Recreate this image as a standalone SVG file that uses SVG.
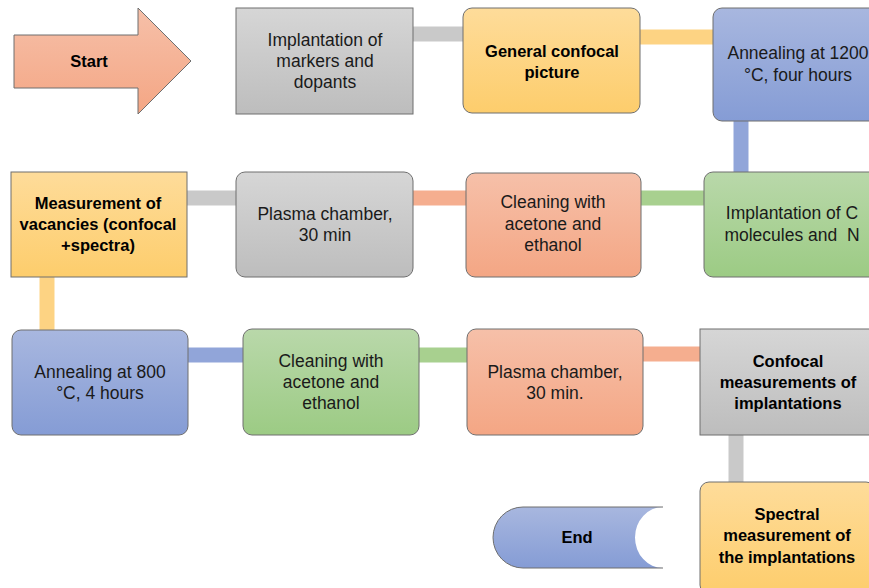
<svg xmlns="http://www.w3.org/2000/svg" width="869" height="588" viewBox="0 0 869 588">
<defs>
<linearGradient id="gGray" x1="0" y1="0" x2="0" y2="1"><stop offset="0" stop-color="#d6d6d6"/><stop offset="1" stop-color="#bdbdbd"/></linearGradient>
<linearGradient id="gYel" x1="0" y1="0" x2="0" y2="1"><stop offset="0" stop-color="#fedc9a"/><stop offset="1" stop-color="#fdcd6c"/></linearGradient>
<linearGradient id="gBlue" x1="0" y1="0" x2="0" y2="1"><stop offset="0" stop-color="#a8b7df"/><stop offset="1" stop-color="#859cd5"/></linearGradient>
<linearGradient id="gGreen" x1="0" y1="0" x2="0" y2="1"><stop offset="0" stop-color="#b9d8aa"/><stop offset="1" stop-color="#9ccb84"/></linearGradient>
<linearGradient id="gSal" x1="0" y1="0" x2="0" y2="1"><stop offset="0" stop-color="#f6c0a9"/><stop offset="1" stop-color="#f4a684"/></linearGradient>
</defs>
<style>
.box{stroke:#6f6f6f;stroke-width:1}
.t{font-family:"Liberation Sans",Arial,sans-serif;font-size:17.5px;fill:#1a1a1a;text-anchor:middle;white-space:pre}
.b{font-weight:bold;font-size:16.5px;fill:#000}
.c{fill:none;stroke-width:15}
</style>
<g id="connectors">
<line class="c" x1="413" y1="34" x2="464" y2="34" stroke="#c9c9c9"/>
<line class="c" x1="640" y1="37" x2="714" y2="37" stroke="#fdd383"/>
<line class="c" x1="741" y1="120" x2="741" y2="173" stroke="#91a5d9"/>
<line class="c" x1="641" y1="198" x2="705" y2="198" stroke="#a8d08f"/>
<line class="c" x1="413" y1="198" x2="467" y2="198" stroke="#f5ae8f"/>
<line class="c" x1="187" y1="198" x2="237" y2="198" stroke="#c9c9c9"/>
<line class="c" x1="47" y1="276" x2="47" y2="331" stroke="#fdd383"/>
<line class="c" x1="187" y1="355" x2="244" y2="355" stroke="#91a5d9"/>
<line class="c" x1="418" y1="355" x2="468" y2="355" stroke="#a8d08f"/>
<line class="c" x1="642" y1="354" x2="701" y2="354" stroke="#f5ae8f"/>
<line class="c" x1="736" y1="434" x2="736" y2="483" stroke="#c9c9c9"/>
</g>
<g id="start">
<polygon class="box" points="14,35 138,35 138,8 191,61 138,114 138,88 14,88" fill="url(#gSal)"/>
<text class="t b" x="89" y="67">Start</text>
</g>
<g id="implant-markers">
<rect class="box" x="236" y="8" width="177" height="106" fill="url(#gGray)"/>
<text class="t" x="325" y="46">Implantation of</text>
<text class="t" x="325" y="67">markers and</text>
<text class="t" x="325" y="88">dopants</text>
</g>
<g id="general-confocal">
<rect class="box" x="463" y="8" width="177" height="105" rx="9" fill="url(#gYel)"/>
<text class="t b" x="552" y="57">General confocal</text>
<text class="t b" x="552" y="78">picture</text>
</g>
<g id="anneal-1200">
<rect class="box" x="713" y="8" width="170" height="113" rx="9" fill="url(#gBlue)"/>
<text class="t" x="798" y="59">Annealing at 1200</text>
<text class="t" x="798" y="81">°C, four hours</text>
</g>
<g id="implant-c">
<rect class="box" x="704" y="172" width="180" height="105" rx="9" fill="url(#gGreen)"/>
<text class="t" x="792" y="219">Implantation of C</text>
<text class="t" x="792" y="241" xml:space="preserve">molecules and  N</text>
</g>
<g id="cleaning-1">
<rect class="box" x="466" y="173" width="175" height="104" rx="9" fill="url(#gSal)"/>
<text class="t" x="553" y="208">Cleaning with</text>
<text class="t" x="553" y="230">acetone and</text>
<text class="t" x="553" y="251">ethanol</text>
</g>
<g id="plasma-1">
<rect class="box" x="236" y="172" width="177" height="105" rx="9" fill="url(#gGray)"/>
<text class="t" x="325" y="220">Plasma chamber,</text>
<text class="t" x="325" y="241">30 min</text>
</g>
<g id="measure-vacancies">
<rect class="box" x="11" y="172" width="176" height="105" fill="url(#gYel)"/>
<text class="t b" x="98" y="209">Measurement of</text>
<text class="t b" x="98" y="230">vacancies (confocal</text>
<text class="t b" x="98" y="251">+spectra)</text>
</g>
<g id="anneal-800">
<rect class="box" x="12" y="330" width="176" height="105" rx="9" fill="url(#gBlue)"/>
<text class="t" x="100" y="378">Annealing at 800</text>
<text class="t" x="100" y="399">°C, 4 hours</text>
</g>
<g id="cleaning-2">
<rect class="box" x="243" y="329" width="176" height="106" rx="9" fill="url(#gGreen)"/>
<text class="t" x="331" y="367">Cleaning with</text>
<text class="t" x="331" y="388">acetone and</text>
<text class="t" x="331" y="409">ethanol</text>
</g>
<g id="plasma-2">
<rect class="box" x="467" y="329" width="176" height="106" rx="9" fill="url(#gSal)"/>
<text class="t" x="555" y="378">Plasma chamber,</text>
<text class="t" x="555" y="399">30 min.</text>
</g>
<g id="confocal-measurements">
<rect class="box" x="700" y="329" width="175" height="106" fill="url(#gGray)"/>
<text class="t b" x="788" y="367">Confocal</text>
<text class="t b" x="788" y="388">measurements of</text>
<text class="t b" x="788" y="409">implantations</text>
</g>
<g id="spectral-measurement">
<rect class="box" x="700" y="482" width="175" height="112" rx="9" fill="url(#gYel)"/>
<text class="t b" x="787" y="520">Spectral</text>
<text class="t b" x="787" y="541">measurement of</text>
<text class="t b" x="787" y="563">the implantations</text>
</g>
<g id="end">
<path d="M523,507 L663,507 A28,30.5 0 0 0 663,568 L523,568 A30,30.5 0 0 1 523,507 Z" fill="url(#gBlue)"/>
<path d="M663,568 L523,568 A30,30.5 0 0 1 523,507 L663,507" fill="none" stroke="#6f6f6f" stroke-width="1"/>
<text class="t b" x="577" y="543">End</text>
</g>
</svg>
